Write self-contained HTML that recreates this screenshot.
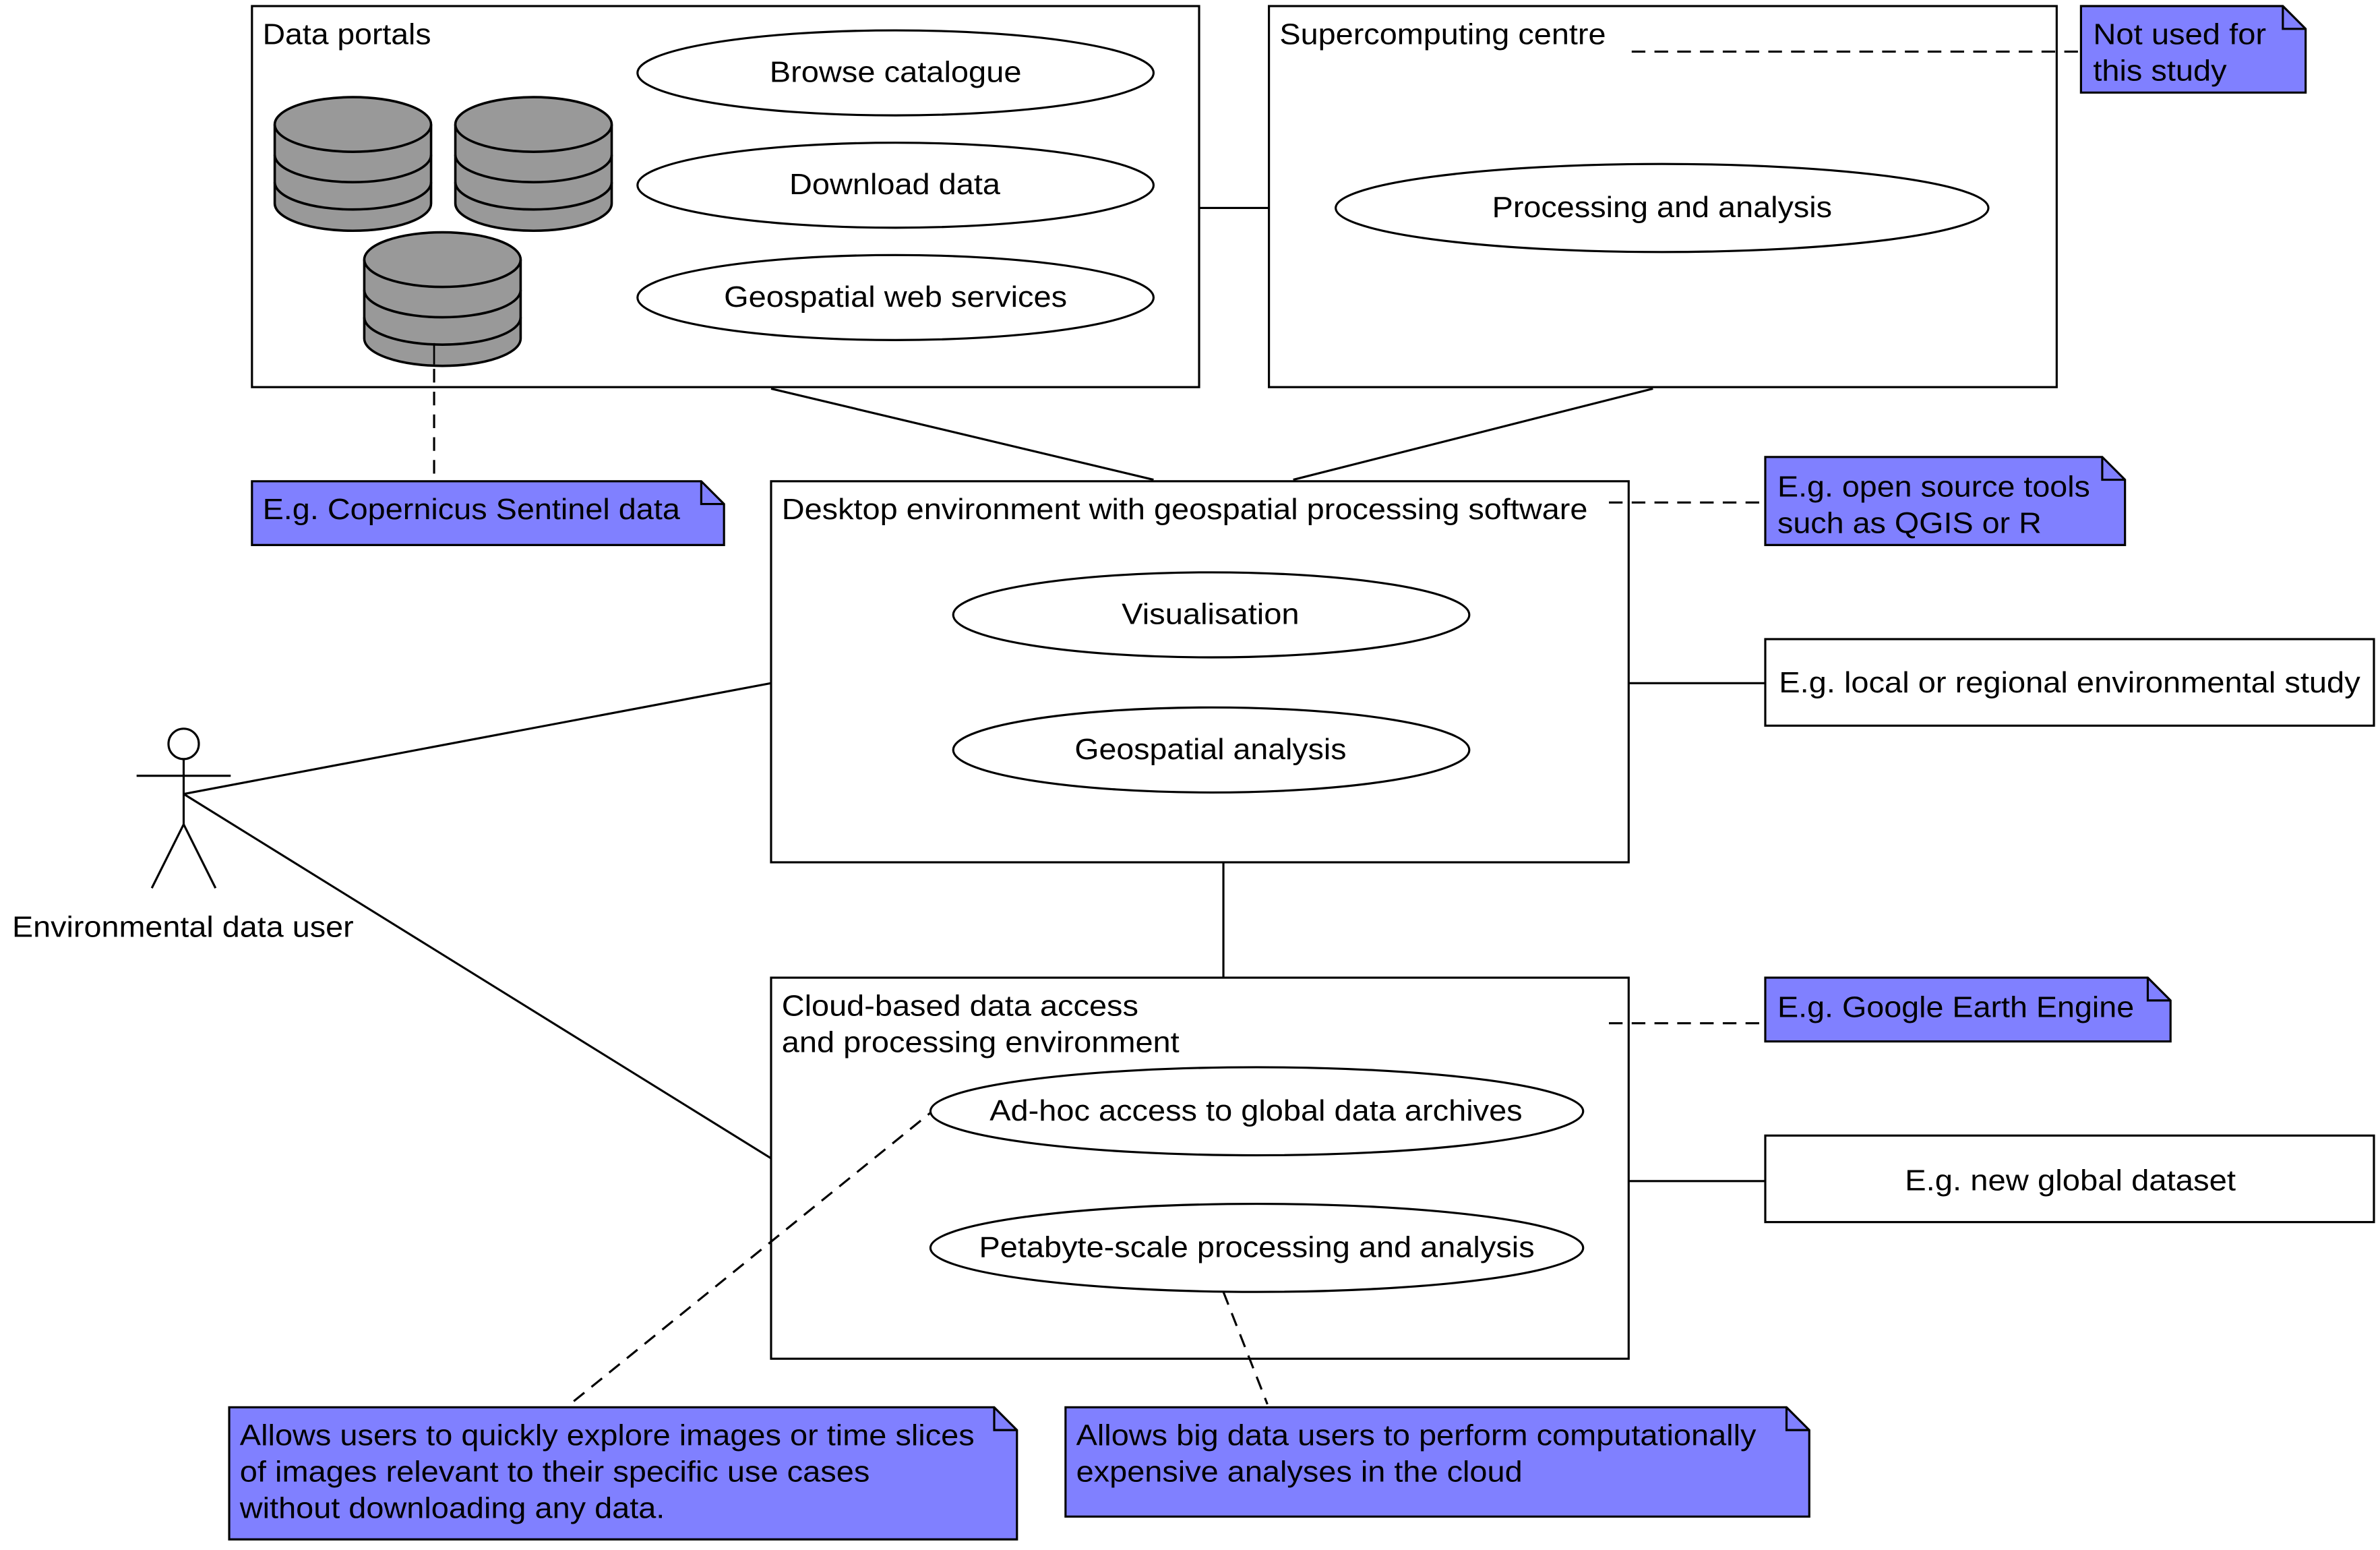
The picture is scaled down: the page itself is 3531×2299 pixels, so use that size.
<!DOCTYPE html>
<html><head><meta charset="utf-8"><style>html,body{margin:0;padding:0;background:#fff}svg{display:block}</style></head>
<body>
<svg width="3531" height="2299" viewBox="0 0 1568 1021" preserveAspectRatio="none" xmlns="http://www.w3.org/2000/svg" font-family="Liberation Sans, sans-serif" font-size="19.5">
<defs>
<g id="cyl" stroke="#000" stroke-width="1.6" fill="#999">
<path d="M0,18 V70 A51.5,18 0 0 0 103,70 V18"/>
<ellipse cx="51.5" cy="18" rx="51.5" ry="18"/>
<path d="M0,20 A51.5,18 0 0 0 103,20" fill="none" transform="translate(0,18)"/>
<path d="M0,20 A51.5,18 0 0 0 103,20" fill="none" transform="translate(0,36)"/>
</g>
</defs>
<rect width="1568" height="1021" fill="#fff"/>
<g fill="none" stroke="#000" stroke-width="1.4">
<rect x="166" y="4" width="624" height="251" fill="#fff"/>
<rect x="836" y="4" width="519" height="251" fill="#fff"/>
<rect x="508" y="317" width="565" height="251" fill="#fff"/>
<rect x="508" y="644" width="565" height="251" fill="#fff"/>
<rect x="1163" y="421" width="401" height="57" fill="#fff"/>
<rect x="1163" y="748" width="401" height="57" fill="#fff"/>
<line x1="790" y1="137" x2="836" y2="137"/>
<line x1="508" y1="256" x2="760" y2="316"/>
<line x1="1089" y1="256" x2="852" y2="316"/>
<line x1="806" y1="568" x2="806" y2="644"/>
<line x1="121" y1="523" x2="508" y2="450"/>
<line x1="121" y1="523" x2="508" y2="763"/>
<line x1="1073" y1="450" x2="1163" y2="450"/>
<line x1="1073" y1="778" x2="1163" y2="778"/>
<g stroke-dasharray="9,6">
<line x1="1075" y1="34" x2="1371" y2="34"/>
<line x1="286" y1="228" x2="286" y2="317"/>
<line x1="1060" y1="331" x2="1163" y2="331"/>
<line x1="1060" y1="674" x2="1163" y2="674"/>
<line x1="378" y1="923" x2="613" y2="733"/>
<line x1="806" y1="851" x2="835" y2="925"/>
</g>
<ellipse cx="590" cy="48" rx="170" ry="28"/>
<ellipse cx="590" cy="122" rx="170" ry="28"/>
<ellipse cx="590" cy="196" rx="170" ry="28"/>
<ellipse cx="1095" cy="137" rx="215" ry="29"/>
<ellipse cx="798" cy="405" rx="170" ry="28"/>
<ellipse cx="798" cy="494" rx="170" ry="28"/>
<ellipse cx="828" cy="732" rx="215" ry="29"/>
<ellipse cx="828" cy="822" rx="215" ry="29"/>
<circle cx="121" cy="490" r="10"/>
<line x1="121" y1="500" x2="121" y2="543"/>
<line x1="90" y1="511" x2="152" y2="511"/>
<path d="M100,585 L121,543 L142,585"/>
</g>
<use href="#cyl" x="181" y="64"/>
<use href="#cyl" x="300" y="64"/>
<use href="#cyl" x="240" y="153"/>
<line x1="286" y1="226" x2="286" y2="240" stroke="#000" stroke-width="1.2"/>
<g fill="#8080ff" stroke="#000" stroke-width="1.4">
<path d="M1371,4 H1504 L1519,19 V61 H1371 Z"/><path d="M1504,4 V19 H1519" fill="none"/>
<path d="M166,317 H462 L477,332 V359 H166 Z"/><path d="M462,317 V332 H477" fill="none"/>
<path d="M1163,301 H1385 L1400,316 V359 H1163 Z"/><path d="M1385,301 V316 H1400" fill="none"/>
<path d="M1163,644 H1415 L1430,659 V686 H1163 Z"/><path d="M1415,644 V659 H1430" fill="none"/>
<path d="M151,927 H655 L670,942 V1014 H151 Z"/><path d="M655,927 V942 H670" fill="none"/>
<path d="M702,927 H1177 L1192,942 V999 H702 Z"/><path d="M1177,927 V942 H1192" fill="none"/>
</g>
<g fill="#000" lengthAdjust="spacingAndGlyphs">
<text x="173" y="29" textLength="111" lengthAdjust="spacingAndGlyphs">Data portals</text>
<text x="843" y="29" textLength="215" lengthAdjust="spacingAndGlyphs">Supercomputing centre</text>
<text x="515" y="342" textLength="531" lengthAdjust="spacingAndGlyphs">Desktop environment with geospatial processing software</text>
<text x="515" y="669" textLength="235" lengthAdjust="spacingAndGlyphs">Cloud-based data access</text>
<text x="515" y="693" textLength="262" lengthAdjust="spacingAndGlyphs">and processing environment</text>
<text x="8" y="617" textLength="225" lengthAdjust="spacingAndGlyphs">Environmental data user</text>
<text x="507" y="54" textLength="166" lengthAdjust="spacingAndGlyphs">Browse catalogue</text>
<text x="520" y="128" textLength="139" lengthAdjust="spacingAndGlyphs">Download data</text>
<text x="477" y="202" textLength="226" lengthAdjust="spacingAndGlyphs">Geospatial web services</text>
<text x="983" y="143" textLength="224" lengthAdjust="spacingAndGlyphs">Processing and analysis</text>
<text x="739" y="411" textLength="117" lengthAdjust="spacingAndGlyphs">Visualisation</text>
<text x="708" y="500" textLength="179" lengthAdjust="spacingAndGlyphs">Geospatial analysis</text>
<text x="652" y="738" textLength="351" lengthAdjust="spacingAndGlyphs">Ad-hoc access to global data archives</text>
<text x="645" y="828" textLength="366" lengthAdjust="spacingAndGlyphs">Petabyte-scale processing and analysis</text>
<text x="1172" y="456" textLength="383" lengthAdjust="spacingAndGlyphs">E.g. local or regional environmental study</text>
<text x="1255" y="784" textLength="218" lengthAdjust="spacingAndGlyphs">E.g. new global dataset</text>
<text x="1379" y="29" textLength="114" lengthAdjust="spacingAndGlyphs">Not used for</text>
<text x="1379" y="53" textLength="88" lengthAdjust="spacingAndGlyphs">this study</text>
<text x="173" y="342" textLength="275" lengthAdjust="spacingAndGlyphs">E.g. Copernicus Sentinel data</text>
<text x="1171" y="327" textLength="206" lengthAdjust="spacingAndGlyphs">E.g. open source tools</text>
<text x="1171" y="351" textLength="174" lengthAdjust="spacingAndGlyphs">such as QGIS or R</text>
<text x="1171" y="670" textLength="235" lengthAdjust="spacingAndGlyphs">E.g. Google Earth Engine</text>
<text x="158" y="952" textLength="484" lengthAdjust="spacingAndGlyphs">Allows users to quickly explore images or time slices</text>
<text x="158" y="976" textLength="415" lengthAdjust="spacingAndGlyphs">of images relevant to their specific use cases</text>
<text x="158" y="1000" textLength="280" lengthAdjust="spacingAndGlyphs">without downloading any data.</text>
<text x="709" y="952" textLength="448" lengthAdjust="spacingAndGlyphs">Allows big data users to perform computationally</text>
<text x="709" y="976" textLength="294" lengthAdjust="spacingAndGlyphs">expensive analyses in the cloud</text>
</g>
</svg>
</body></html>
